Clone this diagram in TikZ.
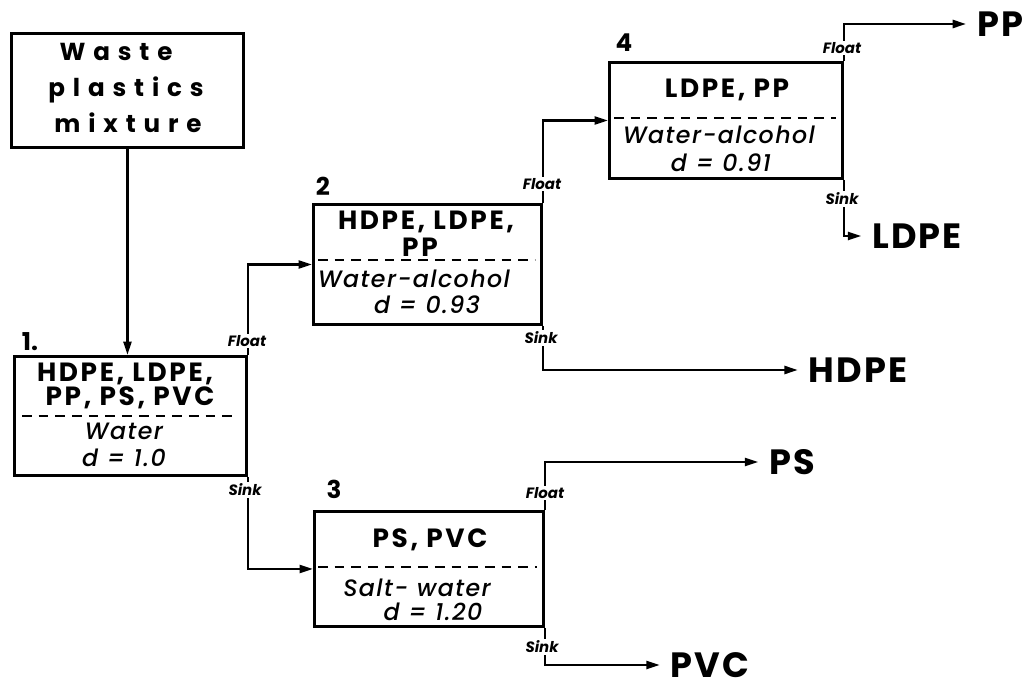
\documentclass[tikz,border=0pt]{standalone}
\usepackage{fontspec}
\setmainfont{Poppins}
\newfontfamily\medit{Poppins Medium Italic}
\usetikzlibrary{arrows.meta}
\begin{document}
\begin{tikzpicture}[x=0.02cm,y=-0.02cm,
  pbox/.style={draw, line width=1.7pt, anchor=north west, inner sep=0pt},
  arr/.style={line width=1.4pt, -{Triangle[length=0.27cm,width=0.16cm]}},
  dsh/.style={line width=1.1pt, dash pattern=on 5.5pt off 4pt},
  btxt/.style={font=\fontsize{15}{16}\selectfont\bfseries\addfontfeature{LetterSpace=10}, inner sep=0pt},
  itxt/.style={font=\fontsize{13.5}{15}\selectfont\medit\addfontfeature{LetterSpace=6}, inner sep=0pt},
  outtxt/.style={font=\fontsize{20}{24}\selectfont\bfseries\addfontfeature{LetterSpace=6}, inner xsep=6pt, inner ysep=0pt},
  lab/.style={font=\fontsize{8.5}{10}\selectfont\bfseries\itshape, fill=white, inner sep=1pt},
  num/.style={font=\fontsize{14}{16}\selectfont\bfseries, inner sep=0pt},
  wtxt/.style={font=\fontsize{14}{20}\selectfont\bfseries\addfontfeature{LetterSpace=32}, align=center, inner sep=0pt}
]
\useasboundingbox[fill=white] (0,0) rectangle (1022,686);

% boxes
\node[pbox, minimum width=4.64cm, minimum height=2.28cm] (w) at (10,32) {};
\node[pbox, minimum width=4.64cm, minimum height=2.38cm] (b1) at (13,355) {};
\node[pbox, minimum width=4.56cm, minimum height=2.40cm] (b2) at (312,203) {};
\node[pbox, minimum width=4.58cm, minimum height=2.30cm] (b3) at (313,510) {};
\node[pbox, minimum width=4.66cm, minimum height=2.32cm] (b4) at (608,61) {};

% waste text
\node[wtxt] (wt1) at (116,52) {Waste};
\node[wtxt] (wt2) at (126,90) {plastics};
\node[wtxt] (wt3) at (128,123) {mixture};

% box 1
\node[btxt] (b1a) at (125,374) {HDPE, LDPE,};
\node[btxt] (b1b) at (130,398) {PP, PS, PVC};
\draw[dsh] (22,416) -- (238,416);
\node[itxt] (b1c) at (124,431) {Water};
\node[itxt] (b1d) at (124,458) {d = 1.0};

% box 2
\node[btxt] (b2a) at (426,222) {HDPE, LDPE,};
\node[btxt] (b2b) at (420,247) {PP};
\draw[dsh] (318,260) -- (535,260);
\node[itxt] (b2c) at (414,279) {Water-alcohol};
\node[itxt] (b2d) at (427,305) {d = 0.93};

% box 3
\node[btxt] (b3a) at (430,540) {PS, PVC};
\draw[dsh] (318,567) -- (537,567);
\node[itxt] (b3c) at (417,588) {Salt- water};
\node[itxt] (b3d) at (433,612) {d = 1.20};

% box 4
\node[btxt] (b4a) at (727,90) {LDPE, PP};
\draw[dsh] (614,118) -- (836,118);
\node[itxt] (b4c) at (719,135) {Water-alcohol};
\node[itxt] (b4d) at (721,163) {d = 0.91};

% numbers
\node[num] (n1) at (30,342) {1.};
\node[num] (n2) at (323,186) {2};
\node[num] (n3) at (334,489) {3};
\node[num] (n4) at (624,43) {4};

% products
\node[outtxt] (hdpe) at (858,370) {HDPE};
\node[outtxt] (ps) at (792,462) {PS};
\node[outtxt] (pvc) at (710,665) {PVC};
\node[outtxt] (ldpe) at (917,236) {LDPE};
\node[outtxt] (pp) at (1000,24) {PP};

% connectors
\draw[arr] (w.south) -- (w.south |- b1.north);
\draw[arr] (b1.north east) |- (b2.west);
\draw[arr] (b1.south east) |- (b3.west);
\draw[arr] (b2.north east) |- (b4.west);
\draw[arr] (b2.south east) |- (hdpe.west);
\draw[arr] (b3.north east) |- (ps.west);
\draw[arr] (b3.south east) |- (pvc.west);
\draw[arr] (b4.north east) |- (pp.west);
\draw[arr] (b4.south east) |- (ldpe.west);

% float / sink labels
\node[lab] (f1) at (247,341) {Float};
\node[lab] (s1) at (245,490) {Sink};
\node[lab] (f2) at (542,184) {Float};
\node[lab] (s2) at (541,338) {Sink};
\node[lab] (f3) at (545,493) {Float};
\node[lab] (s3) at (542,647) {Sink};
\node[lab] (f4) at (842,48) {Float};
\node[lab] (s4) at (842,199) {Sink};
\end{tikzpicture}
\end{document}
